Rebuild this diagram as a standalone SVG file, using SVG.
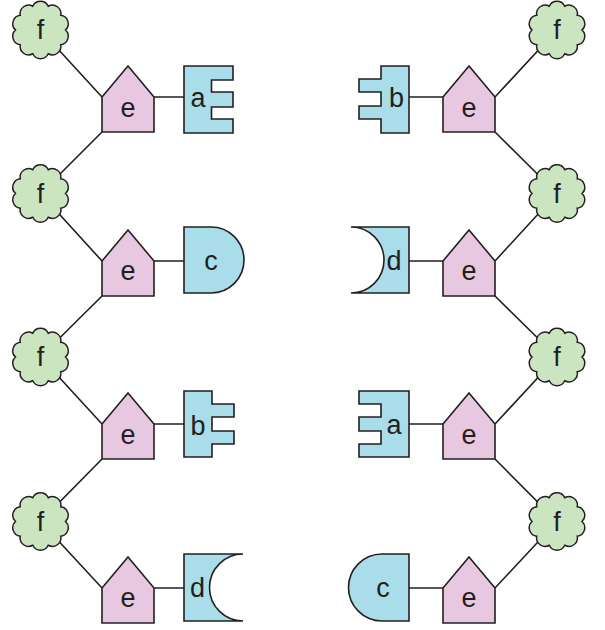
<svg xmlns="http://www.w3.org/2000/svg" xmlns:xlink="http://www.w3.org/1999/xlink" width="605" height="630" viewBox="0 0 605 630">
<style>
.ln{stroke:#231f20;stroke-width:1.6;fill:none}
.pent{fill:#e8c8e0;stroke:#231f20;stroke-width:1.6;stroke-linejoin:miter}
.blue{fill:#a8dde9;stroke:#231f20;stroke-width:1.6;stroke-linejoin:miter}
.cloud{fill:#cbe5c1;stroke:#231f20;stroke-width:1.5}
text{font-family:"Liberation Sans",Arial,sans-serif;font-size:27px;fill:#231f20;text-anchor:middle}
</style>
<defs>
<path id="pentagon" d="M0,31 L26,0 L52,31 V66 H0 Z"/>
<path id="cloudshape" d="M25,0 A8.5,8.5 0 0 1 20.225,14.695 A8.5,8.5 0 0 1 7.725,23.776 A8.5,8.5 0 0 1 -7.725,23.776 A8.5,8.5 0 0 1 -20.225,14.695 A8.5,8.5 0 0 1 -25,0 A8.5,8.5 0 0 1 -20.225,-14.695 A8.5,8.5 0 0 1 -7.725,-23.776 A8.5,8.5 0 0 1 7.725,-23.776 A8.5,8.5 0 0 1 20.225,-14.695 A8.5,8.5 0 0 1 25,0 Z"/>
</defs>
<g id="connectors" class="ln">
<path d="M40.5,30 L102,97 M102,132 L40.5,193.5 M40.5,193.5 L102,261 M102,296 L40.5,357 M40.5,357 L102,424 M102,459 L40.5,521.5 M40.5,521.5 L102,588"/>
<path d="M557,30 L495,97 M495,132 L557,193.5 M557,193.5 L495,261 M495,296 L557,357 M557,357 L495,424 M495,459 L557,521.5 M557,521.5 L495,588"/>
<path d="M154,97 H184 M154,261 H184 M154,424 H184 M154,588 H184"/>
<path d="M409,97 H443 M409,261 H443 M409,424 H443 M409,588 H443"/>
</g>
<g id="f-left-1"><use xlink:href="#cloudshape" class="cloud" transform="translate(40.5,30)"/><text x="40.5" y="39">f</text></g>
<g id="f-left-2"><use xlink:href="#cloudshape" class="cloud" transform="translate(40.5,193.5)"/><text x="40.5" y="202.5">f</text></g>
<g id="f-left-3"><use xlink:href="#cloudshape" class="cloud" transform="translate(40.5,357)"/><text x="40.5" y="366">f</text></g>
<g id="f-left-4"><use xlink:href="#cloudshape" class="cloud" transform="translate(40.5,521.5)"/><text x="40.5" y="530.5">f</text></g>
<g id="f-right-1"><use xlink:href="#cloudshape" class="cloud" transform="translate(557,30)"/><text x="557" y="39">f</text></g>
<g id="f-right-2"><use xlink:href="#cloudshape" class="cloud" transform="translate(557,193.5)"/><text x="557" y="202.5">f</text></g>
<g id="f-right-3"><use xlink:href="#cloudshape" class="cloud" transform="translate(557,357)"/><text x="557" y="366">f</text></g>
<g id="f-right-4"><use xlink:href="#cloudshape" class="cloud" transform="translate(557,521.5)"/><text x="557" y="530.5">f</text></g>
<g id="e-left-1"><use xlink:href="#pentagon" class="pent" transform="translate(102,66)"/><text x="128" y="117">e</text></g>
<g id="e-left-2"><use xlink:href="#pentagon" class="pent" transform="translate(102,230)"/><text x="128" y="280">e</text></g>
<g id="e-left-3"><use xlink:href="#pentagon" class="pent" transform="translate(102,393)"/><text x="128" y="444">e</text></g>
<g id="e-left-4"><use xlink:href="#pentagon" class="pent" transform="translate(102,557)"/><text x="128" y="607">e</text></g>
<g id="e-right-1"><use xlink:href="#pentagon" class="pent" transform="translate(443,66)"/><text x="469" y="117">e</text></g>
<g id="e-right-2"><use xlink:href="#pentagon" class="pent" transform="translate(443,230)"/><text x="469" y="280">e</text></g>
<g id="e-right-3"><use xlink:href="#pentagon" class="pent" transform="translate(443,393)"/><text x="469" y="444">e</text></g>
<g id="e-right-4"><use xlink:href="#pentagon" class="pent" transform="translate(443,557)"/><text x="469" y="607">e</text></g>
<g id="a-left"><path class="blue" d="M184,66 H233 V80 H211.5 V92 H233 V107 H211.5 V119 H233 V133 H184 Z"/><text x="198" y="107">a</text></g>
<g id="c-left"><path class="blue" d="M184,227 H211 A33,33 0 0 1 211,293 H184 Z"/><text x="211" y="270">c</text></g>
<g id="b-left"><path class="blue" d="M184,391 H212 V404 H234 V417 H212 V431 H234 V444 H212 V457 H184 Z"/><text x="198" y="435">b</text></g>
<g id="d-left"><path class="blue" d="M184,554 H243 A33.5,33.5 0 0 0 243,621 H184 Z"/><text x="197.5" y="597">d</text></g>
<g id="b-right"><path class="blue" d="M409,66 V133 H381 V119 H359 V106 H381 V92 H359 V79 H381 V66 Z"/><text x="396.5" y="107">b</text></g>
<g id="d-right"><path class="blue" d="M409,227 V293 H351 A33,33 0 0 0 351,227 Z"/><text x="394" y="270">d</text></g>
<g id="a-right"><path class="blue" d="M409,391 V457 H359 V444 H381 V431 H359 V417 H381 V404 H359 V391 Z"/><text x="394" y="434">a</text></g>
<g id="c-right"><path class="blue" d="M409,554 V621 H382 A33.5,33.5 0 0 1 382,554 Z"/><text x="383" y="597">c</text></g>
</svg>
